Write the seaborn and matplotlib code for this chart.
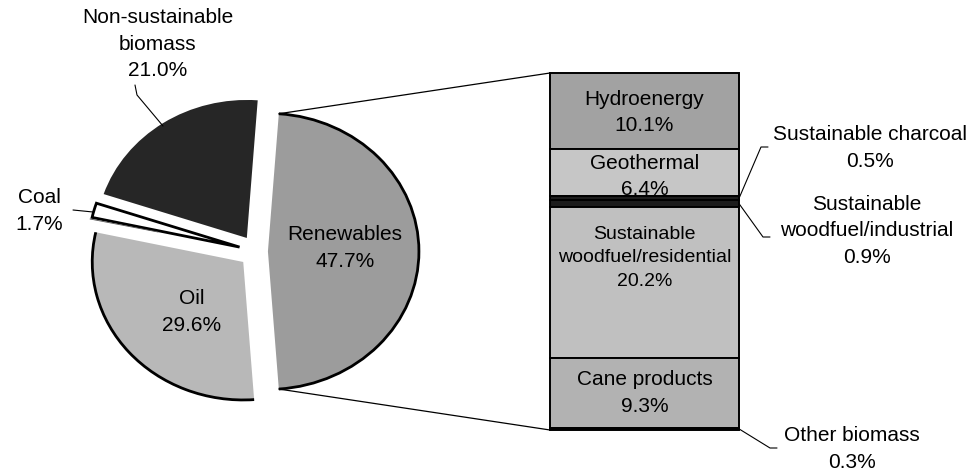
import numpy as np
import seaborn as sns
import matplotlib.pyplot as plt
from matplotlib.patches import ConnectionPatch, Arc

### data
pie_labels = ["Renewables", "Non-sustainable\nbiomass", "Coal", "Oil"]
pie_values = [47.7, 21.0, 1.7, 29.6]

bar_labels = ["Hydroenergy", "Geothermal", "Sustainable charcoal",
              "Sustainable\nwoodfuel/industrial", "Sustainable\nwoodfuel/residential",
              "Cane products", "Other biomass"]
bar_values = [10.1, 6.4, 0.5, 0.9, 20.2, 9.3, 0.3]

### style
sns.set_theme(style="white")
plt.rcParams['font.family'] = ['Liberation Sans', 'DejaVu Sans']
plt.rcParams['text.color'] = 'black'
FS = 15
LS = 1.5

pie_colors = ['#9c9c9c', '#262626', 'white', '#b8b8b8']
bar_colors = ['#a2a2a2', '#c6c6c6', '#1c1c1c', '#1c1c1c', '#c0c0c0', '#b2b2b2', '#111111']

W, H = 974, 470
fig = plt.figure(figsize=(W / 100, H / 100), dpi=100)

def px_rect(left, top, width, height):
    # pixel box (y from top) -> figure fraction
    return [left / W, (H - top - height) / H, width / W, height / H]

# pie is slightly wider than tall in the scan
rx, ry, cx, cy, lim = 151, 138, 256.6, 251.4, 1.7
pie_ax = fig.add_axes(px_rect(cx - lim * rx, cy - lim * ry, 2 * lim * rx, 2 * lim * ry))
start = -pie_values[0] / sum(pie_values) * 180
wedges, _ = pie_ax.pie(pie_values, explode=[0.075, 0.117, 0.117, 0.117],
                       startangle=start, counterclock=True, colors=pie_colors,
                       wedgeprops=dict(edgecolor='none', linewidth=0))
# only the coal slice is fully outlined; the others get a dark rim on the arc
wedges[2].set_edgecolor('black')
wedges[2].set_linewidth(2.0)
for wg in (wedges[0], wedges[3]):
    pie_ax.add_patch(Arc(wg.center, 2 * wg.r, 2 * wg.r, theta1=wg.theta1,
                         theta2=wg.theta2, color='black', linewidth=2.0))
pie_ax.set_xlim(-lim, lim)
pie_ax.set_ylim(-lim, lim)
pie_ax.set_aspect('auto')
pie_ax.axis('off')

# stacked bar for the renewables breakdown
bar_ax = fig.add_axes(px_rect(550, 73, 189, 357))
total = sum(bar_values)
cum = np.concatenate([[0], np.cumsum(bar_values)[:-1]])
for v, b, c in zip(bar_values, cum, bar_colors):
    bar_ax.bar(0.5, v, bottom=b, width=1.0, color=c, edgecolor='black',
               linewidth=1.4, clip_on=False)
bar_ax.set_xlim(0, 1)
bar_ax.set_ylim(total, 0)
bar_ax.axis('off')

# labels inside the bar (index, vertical nudge in %)
inner = {0: 0.2, 1: 0.5, 4: -3.3, 5: 0.0}
for i, dy in inner.items():
    txt = bar_labels[i] + "\n" + f"{bar_values[i]:.1f}%"
    fs = 14 if i == 4 else FS
    bar_ax.text(0.5, cum[i] + bar_values[i] / 2 + dy, txt, ha='center', va='center',
                fontsize=fs, linespacing=LS)

# connector lines pie -> bar
w = wedges[0]
for ang, yb in [(w.theta2, 0), (w.theta1, total)]:
    xa = w.center[0] + w.r * np.cos(np.radians(ang))
    ya = w.center[1] + w.r * np.sin(np.radians(ang))
    con = ConnectionPatch(xyA=(xa, ya), coordsA=pie_ax.transData,
                          xyB=(0, yb), coordsB=bar_ax.transData,
                          color='black', linewidth=0.9)
    fig.add_artist(con)

# overlay in pixel coordinates for labels and leaders
ax = fig.add_axes([0, 0, 1, 1])
ax.set_xlim(0, W)
ax.set_ylim(H, 0)
ax.axis('off')

def bar_edge(i):
    p = bar_ax.transData.transform((1, cum[i] + bar_values[i] / 2))
    return ax.transData.inverted().transform(p)

pie_txt = [f"{l}\n{v:.1f}%" for l, v in zip(pie_labels, pie_values)]
ax.text(345, 248, pie_txt[0], ha='center', va='center', fontsize=FS, linespacing=LS)
ax.text(158, 44, pie_txt[1], ha='center', va='center', fontsize=FS, linespacing=LS)
ax.text(39, 211, pie_txt[2], ha='center', va='center', fontsize=FS, linespacing=LS)
ax.text(192, 312, pie_txt[3], ha='center', va='center', fontsize=FS, linespacing=LS)

ax.plot([135, 137, 163], [85, 95, 126], color='black', lw=0.8)
ax.plot([73, 93], [210, 212], color='black', lw=0.8)
ax.plot([90, 158], [219, 232], color='#555555', lw=0.6)

# labels right of the bar
right = [(2, 870, 148, 147, 761), (3, 867, 231, 237, 763), (6, 852, 449, 448, 770)]
for i, tx, ty, ly, lx in right:
    ax.text(tx, ty, bar_labels[i] + "\n" + f"{bar_values[i]:.1f}%", ha='center',
            va='center', fontsize=FS, linespacing=LS)
    ex, ey = bar_edge(i)
    ax.plot([ex, lx, lx + 7], [ey, ly, ly], color='black', lw=0.8)

fig.savefig("out.png", dpi=100, facecolor='white')
